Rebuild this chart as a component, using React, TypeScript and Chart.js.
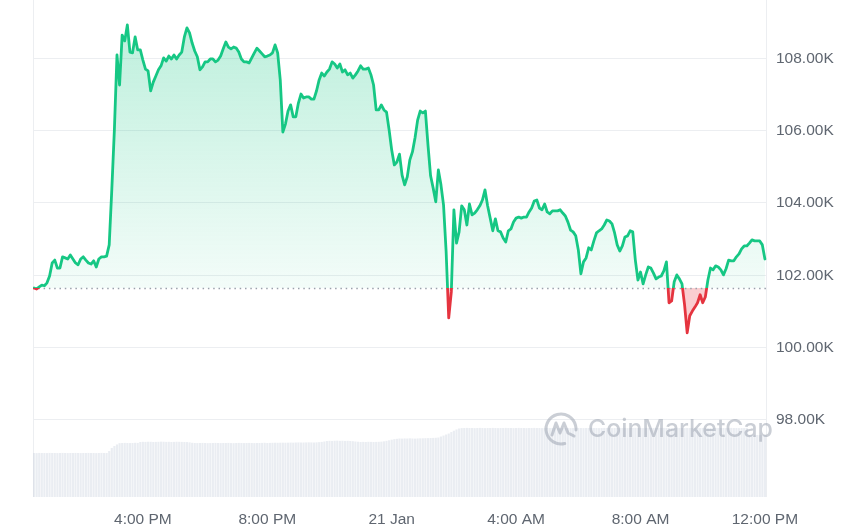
import React, { useEffect, useRef } from 'react';
import { Chart, registerables } from 'chart.js';

Chart.register(...registerables);

// Time axis: minutes after 12:00 PM, 20 Jan (5-minute samples)
const START_MINUTE = 30;
const STEP_MINUTES = 5;
const X_MIN_MINUTE = 28;
const X_MAX_MINUTE = 1444;
const OPEN_PRICE_K = 101.65;

// BTC price in thousands of USD
const priceK: number[] = [
  101.65, 101.62, 101.68, 101.73, 101.71, 101.79, 101.98, 102.34, 102.42, 102.20,
  102.20, 102.51, 102.48, 102.45, 102.56, 102.45, 102.34, 102.29, 102.45, 102.51,
  102.42, 102.34, 102.31, 102.40, 102.23, 102.45, 102.51, 102.51, 102.53, 102.84,
  104.36, 106.02, 108.09, 107.26, 108.64, 108.48, 108.92, 108.17, 108.15, 108.59,
  108.23, 108.23, 107.95, 107.70, 107.65, 107.10, 107.34, 107.51, 107.68, 107.79,
  108.01, 107.92, 108.06, 107.98, 108.09, 107.98, 108.09, 108.17, 108.59, 108.84,
  108.70, 108.42, 108.20, 108.04, 107.68, 107.76, 107.90, 107.90, 107.98, 107.98,
  107.90, 107.95, 108.06, 108.26, 108.45, 108.31, 108.26, 108.31, 108.28, 108.17,
  107.98, 107.90, 107.90, 107.87, 108.01, 108.15, 108.28, 108.20, 108.12, 108.04,
  108.06, 108.09, 108.15, 108.37, 108.15, 107.40, 105.96, 106.18, 106.54, 106.71,
  106.38, 106.38, 106.76, 107.01, 106.90, 106.93, 106.93, 106.87, 106.87, 107.10,
  107.40, 107.59, 107.51, 107.62, 107.70, 107.90, 107.84, 107.73, 107.84, 107.62,
  107.68, 107.54, 107.59, 107.45, 107.54, 107.65, 107.79, 107.70, 107.70, 107.73,
  107.54, 107.26, 106.57, 106.57, 106.71, 106.57, 106.51, 106.02, 105.46, 105.05,
  105.13, 105.35, 104.77, 104.50, 104.72, 105.19, 105.41, 105.80, 106.29, 106.54,
  106.49, 106.54, 105.60, 104.75, 104.41, 104.03, 104.91, 104.50, 103.94, 102.65,
  100.82, 101.54, 103.81, 102.89, 103.20, 103.92, 103.81, 103.39, 103.97, 103.67,
  103.72, 103.81, 103.92, 104.08, 104.36, 103.92, 103.58, 103.23, 103.56, 103.23,
  103.20, 103.03, 102.92, 103.23, 103.28, 103.47, 103.58, 103.61, 103.58, 103.61,
  103.61, 103.75, 103.86, 104.05, 104.08, 103.86, 103.81, 103.97, 103.75, 103.70,
  103.78, 103.78, 103.78, 103.81, 103.72, 103.64, 103.47, 103.25, 103.20, 103.09,
  102.70, 102.04, 102.37, 102.48, 102.76, 102.70, 102.95, 103.17, 103.23, 103.28,
  103.39, 103.53, 103.50, 103.42, 103.17, 102.84, 102.67, 102.81, 103.06, 103.09,
  103.23, 103.20, 102.42, 101.87, 102.09, 101.76, 102.01, 102.23, 102.20, 102.06,
  101.90, 101.95, 101.98, 102.12, 102.37, 101.24, 101.29, 101.82, 102.01, 101.90,
  101.76, 101.18, 100.41, 100.88, 101.01, 101.12, 101.24, 101.46, 101.24, 101.40,
  101.87, 102.20, 102.15, 102.26, 102.23, 102.15, 102.01, 102.18, 102.42, 102.40,
  102.40, 102.51, 102.59, 102.73, 102.81, 102.81, 102.89, 102.98, 102.95, 102.95,
  102.95, 102.84, 102.45,
];

// Trading volume, billions of USD
const volumeB: number[] = [
  53.1, 53.0, 53.2, 53.1, 53.1, 53.0, 53.2, 53.1, 53.1, 53.0,
  53.1, 53.2, 53.1, 53.0, 53.1, 53.1, 53.2, 53.1, 53.0, 53.1,
  53.1, 53.2, 53.1, 53.1, 53.0, 53.1, 53.2, 53.1, 53.1,
  55.5, 59.2, 61.6, 63.4,
  65.0, 65.2, 65.3, 65.2, 65.1, 65.2, 65.4, 65.3,
  66.4, 66.6, 66.5, 66.7, 66.6, 66.4, 66.5, 66.6, 66.8, 66.7,
  66.5, 66.6, 66.4, 66.5, 66.7, 66.6, 66.5, 66.4, 66.3, 66.0,
  65.4, 65.2, 65.1, 65.2, 65.3, 65.2, 65.0, 65.1, 65.2, 65.3,
  65.2, 65.1, 65.2, 65.2, 65.3, 65.1, 65.0, 65.2, 65.3, 65.2,
  65.1, 65.2, 65.3, 65.2, 65.1, 65.2, 65.2, 65.3, 65.4, 65.2,
  65.3, 65.4, 65.5, 65.4, 65.5, 65.6, 65.5, 65.6, 65.7, 65.6,
  65.8, 65.9, 65.8, 65.8, 65.9, 66.0, 65.9, 65.8, 66.0, 66.2, 66.5, 67.0,
  67.6, 67.8, 67.7, 67.9, 68.0, 67.8, 67.9, 67.7, 67.8, 67.6, 67.4, 67.0, 66.7,
  66.4, 66.5, 66.4, 66.6, 66.5, 66.4, 66.5, 66.6, 66.8, 67.2, 67.8, 68.5, 69.2, 69.8, 70.2,
  70.6, 70.5, 70.7, 70.6, 70.8, 70.6, 70.5, 70.7, 70.8, 70.9, 71.0, 71.1, 71.2, 71.3, 71.5,
  71.8, 73.0, 74.2, 75.4, 76.6, 78.4, 80.0, 81.5, 82.7,
  83.2, 83.3, 83.4, 83.3, 83.3, 83.2, 83.3, 83.4, 83.3, 83.2,
  83.3, 83.3, 83.4, 83.3, 83.2, 83.3, 83.3, 83.4, 83.3, 83.3,
  83.2, 83.3, 83.4, 83.3, 83.3, 83.2, 83.3, 83.3, 83.4, 83.3,
  83.3, 83.2, 83.3, 83.4, 83.3, 83.3, 83.2, 83.3, 83.3, 83.4,
  83.3, 83.3, 83.2, 83.3, 83.4, 83.3, 83.3, 83.2, 83.3, 83.3,
  83.4, 83.3, 83.3, 83.2, 83.3, 83.4, 83.3, 83.3, 83.2, 83.3,
  83.3, 83.4, 83.3, 83.3, 83.2, 83.3, 83.3, 83.4, 83.3, 83.3,
  83.2, 83.3, 83.4, 83.3, 83.3, 83.2, 83.3, 83.3, 83.4, 83.3,
  83.3, 83.2, 83.3, 83.4, 83.3, 83.3, 83.2, 83.3, 83.3, 83.4,
  83.3, 83.3, 83.2, 83.3, 83.4, 83.3, 83.3, 83.2, 83.3, 83.3,
  83.3, 83.3, 83.2, 83.3, 83.4, 83.3, 83.3, 83.2, 83.3, 83.3,
  83.4,
  74.8, 74.7, 74.8, 74.9, 74.8, 74.7, 74.8,
];

const xTickMinutes = [240, 480, 720, 960, 1200, 1440];
const xTickLabels = ['4:00 PM', '8:00 PM', '21 Jan', '4:00 AM', '8:00 AM', '12:00 PM'];
const yTickValues = [98, 100, 102, 104, 106, 108];

const GREEN = '#16c784';
const RED = '#e5343f';
const GRID = '#eceef1';
const TICK_COLOR = '#5f6670';
const FONT_FAMILY = "'Liberation Sans', Arial, Helvetica, sans-serif";

export default function App() {
  const canvasRef = useRef<HTMLCanvasElement>(null);

  useEffect(() => {
    const canvas = canvasRef.current;
    if (!canvas) return;

    const pricePoints = priceK.map((v, i) => ({ x: START_MINUTE + i * STEP_MINUTES, y: v }));
    const volumePoints = volumeB.map((v, i) => ({ x: START_MINUTE + i * STEP_MINUTES, y: v }));
    const tickFont = { family: FONT_FAMILY, size: 15.5 };

    const basePixel = (chart: any) => chart.scales.y.getPixelForValue(OPEN_PRICE_K);
    const noPad = (scale: any) => {
      scale.paddingTop = 0;
      scale.paddingBottom = 0;
      scale.paddingLeft = 0;
      scale.paddingRight = 0;
    };

    const frame = {
      id: 'frame',
      beforeDatasetsDraw(chart: any) {
        const { ctx, chartArea } = chart;
        ctx.save();
        ctx.strokeStyle = GRID;
        ctx.lineWidth = 1;
        ctx.beginPath();
        ctx.moveTo(Math.round(chartArea.left) + 0.5, chartArea.top);
        ctx.lineTo(Math.round(chartArea.left) + 0.5, chartArea.bottom);
        ctx.moveTo(Math.round(chartArea.right) - 0.5, chartArea.top);
        ctx.lineTo(Math.round(chartArea.right) - 0.5, chartArea.bottom);
        ctx.stroke();
        ctx.restore();
      },
      beforeDatasetDraw(chart: any, args: any) {
        if (args.index !== 0) return;
        const { ctx, chartArea } = chart;
        const y = Math.round(basePixel(chart)) + 0.5;
        ctx.save();
        ctx.strokeStyle = '#9aa1ab';
        ctx.lineWidth = 1.5;
        ctx.setLineDash([1.5, 3.8]);
        ctx.beginPath();
        ctx.moveTo(chartArea.left, y);
        ctx.lineTo(chartArea.right, y);
        ctx.stroke();
        ctx.restore();
      },
      afterDatasetsDraw(chart: any) {
        const { ctx } = chart;
        ctx.save();
        const color = 'rgba(150,158,172,0.5)';
        const cx = 561;
        const cy = 429;
        const r = 15;
        ctx.strokeStyle = color;
        ctx.lineWidth = 3;
        ctx.lineCap = 'round';
        ctx.lineJoin = 'round';
        ctx.beginPath();
        ctx.arc(cx, cy, r, 0.42 * Math.PI, 2.02 * Math.PI);
        ctx.stroke();
        ctx.beginPath();
        ctx.moveTo(cx - 9, cy + 6);
        ctx.lineTo(cx - 5, cy - 6);
        ctx.lineTo(cx - 1, cy + 4);
        ctx.lineTo(cx + 3, cy - 6);
        ctx.lineTo(cx + 7, cy + 4);
        ctx.lineTo(cx + 13, cy + 7);
        ctx.stroke();
        const text = 'CoinMarketCap';
        ctx.font = `500 20px Inter, 'Noto Sans', sans-serif`;
        const w = ctx.measureText(text).width;
        const size = 20 * 185 / w;
        ctx.font = `500 ${size}px Inter, 'Noto Sans', sans-serif`;
        ctx.fillStyle = color;
        ctx.textBaseline = 'middle';
        ctx.textAlign = 'left';
        ctx.fillText(text, 588, 430);
        ctx.restore();
      },
    };

    const chart = new Chart(canvas, {
      type: 'line',
      data: {
        datasets: [
          {
            type: 'line',
            data: pricePoints,
            yAxisID: 'y',
            order: 0,
            borderWidth: 2.8,
            pointRadius: 0,
            pointHoverRadius: 0,
            tension: 0,
            borderJoinStyle: 'round',
            borderCapStyle: 'round',
            borderColor: (c: any) => {
              const ch = c.chart;
              const area = ch.chartArea;
              if (!area) return GREEN;
              const g = ch.ctx.createLinearGradient(0, area.top, 0, area.bottom);
              const f = Math.min(1, Math.max(0, (basePixel(ch) - area.top) / (area.bottom - area.top)));
              g.addColorStop(0, GREEN);
              g.addColorStop(f, GREEN);
              g.addColorStop(f, RED);
              g.addColorStop(1, RED);
              return g;
            },
            backgroundColor: (c: any) => {
              const ch = c.chart;
              const area = ch.chartArea;
              if (!area) return 'rgba(22,199,132,0.15)';
              const g = ch.ctx.createLinearGradient(0, area.top, 0, basePixel(ch));
              g.addColorStop(0, 'rgba(22,199,132,0.30)');
              g.addColorStop(1, 'rgba(22,199,132,0.05)');
              return g;
            },
            fill: { target: { value: OPEN_PRICE_K }, below: 'rgba(234,57,67,0.25)' },
          } as any,
          {
            type: 'bar',
            data: volumePoints,
            yAxisID: 'yv',
            order: 1,
            backgroundColor: 'rgba(200,208,222,0.38)',
            borderWidth: 0,
            barPercentage: 1,
            categoryPercentage: 0.82,
          } as any,
        ],
      },
      options: {
        animation: false,
        responsive: false,
        devicePixelRatio: 1,
        events: [],
        layout: { padding: { left: 33, right: 0, top: 0, bottom: 0 } },
        plugins: {
          legend: { display: false },
          tooltip: { enabled: false },
        },
        scales: {
          x: {
            type: 'linear',
            min: X_MIN_MINUTE,
            max: X_MAX_MINUTE,
            offset: false,
            grid: { display: false, offset: false, drawTicks: false },
            border: { display: false },
            afterBuildTicks: (scale: any) => {
              scale.ticks = xTickMinutes.map((v) => ({ value: v }));
            },
            afterFit: (scale: any) => {
              scale.height = 34;
              noPad(scale);
            },
            ticks: {
              autoSkip: false,
              maxRotation: 0,
              padding: 13,
              color: TICK_COLOR,
              font: tickFont,
              callback: (v: any) => xTickLabels[xTickMinutes.indexOf(Number(v))] ?? '',
            },
          },
          y: {
            type: 'linear',
            position: 'right',
            min: 95.87,
            max: 109.61,
            grid: { color: GRID, lineWidth: 1, drawTicks: false },
            border: { display: false },
            afterBuildTicks: (scale: any) => {
              scale.ticks = yTickValues.map((v) => ({ value: v }));
            },
            afterFit: (scale: any) => {
              scale.width = 93;
              noPad(scale);
            },
            ticks: {
              padding: 9,
              color: TICK_COLOR,
              font: tickFont,
              callback: (v: any) => Number(v).toFixed(2) + 'K',
            },
          },
          yv: {
            type: 'linear',
            display: false,
            min: 0,
            max: 600,
          },
        },
      } as any,
      plugins: [frame],
    });

    return () => chart.destroy();
  }, []);

  return (
    <div style={{ position: 'absolute', left: 0, top: 0, width: 860, height: 531, background: '#ffffff' }}>
      <canvas ref={canvasRef} width={860} height={531} style={{ display: 'block', width: 860, height: 531 }} />
    </div>
  );
}
